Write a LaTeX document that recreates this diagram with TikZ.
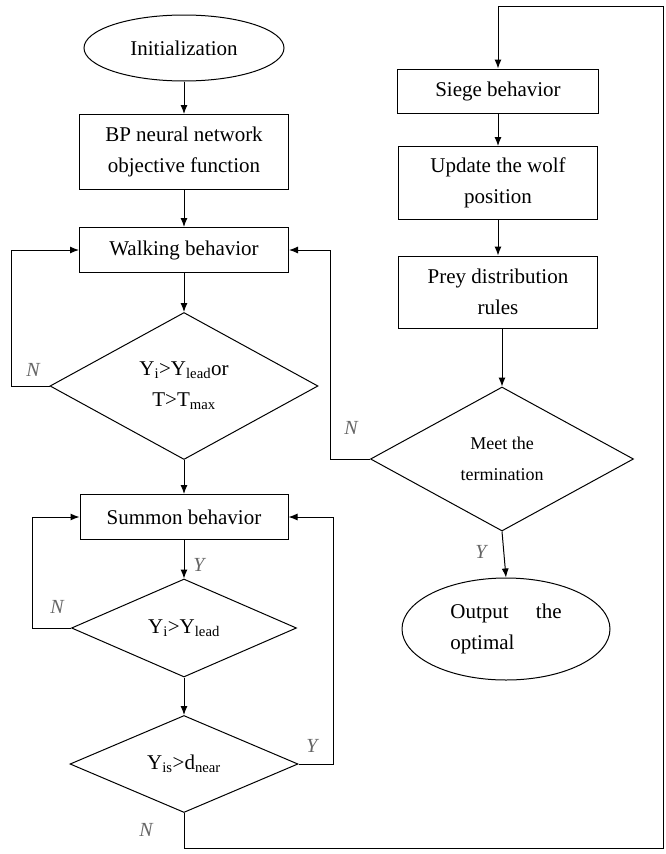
\documentclass[tikz,border=0pt]{standalone}
\usepackage{fontspec}
\setmainfont{Liberation Serif}
\usetikzlibrary{shapes.geometric,arrows.meta}
\begin{document}
\begin{tikzpicture}[x=1pt,y=-1pt,
  every node/.style={inner sep=0pt, align=center, font=\fontsize{21}{31}\selectfont},
  box/.style={draw, line width=1pt, rectangle},
  oval/.style={draw, line width=1pt, ellipse},
  decide/.style={draw, line width=1pt, diamond},
  arr/.style={line width=1pt, -{Latex[length=9pt,width=7pt]}},
  ln/.style={line width=1pt},
  yn/.style={font=\fontsize{20}{22}\selectfont\itshape, text=black!60}]
\useasboundingbox (0,0) rectangle (665,854);
% left column
\node[oval, minimum width=200, minimum height=66] (init) at (184,48) {Initialization};
\node[box, minimum width=209, minimum height=75] (bp) at (184,152) {BP neural network\\objective function};
\node[box, minimum width=209, minimum height=45] (walk) at (184,250) {Walking behavior};
\node[decide, minimum width=268, minimum height=147] (d1) at (184,386) {Y\textsubscript{i}>Y\textsubscript{lead}or\\T>T\textsubscript{max}};
\node[box, minimum width=208, minimum height=45] (summon) at (184,517) {Summon behavior};
\node[decide, minimum width=225, minimum height=98] (d2) at (184,628) {Y\textsubscript{i}>Y\textsubscript{lead}};
\node[decide, minimum width=228, minimum height=97] (d3) at (184,764) {Y\textsubscript{is}>d\textsubscript{near}};
% right column
\node[box, minimum width=201, minimum height=44] (siege) at (498,91) {Siege behavior};
\node[box, minimum width=199, minimum height=73] (update) at (498,183) {Update the wolf\\position};
\node[box, minimum width=199, minimum height=72] (prey) at (498,292) {Prey distribution\\rules};
\node[decide, minimum width=263, minimum height=144, font=\fontsize{18}{31}\selectfont] (d4) at (502,459) {Meet the\\termination};
\node[oval, minimum width=208, minimum height=102, align=left] (out) at (506,629) {Output\hspace{1.3em}the\\optimal};
% helper coordinates
\coordinate (bl) at (184,848);
\coordinate (br) at (663,848);
\coordinate (tr) at (663,6);
\coordinate (tl) at (498,6);
% connectors left
\draw[arr] (init.south) -- (init.south |- bp.north);
\draw[arr] (bp.south) -- (bp.south |- walk.north);
\draw[arr] (walk.south) -- (walk.south |- d1.north);
\draw[arr] (d1.south) -- (d1.south |- summon.north);
\draw[arr] (summon.south) -- (summon.south |- d2.north);
\draw[arr] (d2.south) -- (d2.south |- d3.north);
\draw[arr] (d1.west) -- ++(-38,0) |- (walk.west);
\draw[arr] (d2.west) -- ++(-39,0) |- (summon.west);
\draw[arr] (d3.east) -- ++(35,0) |- (summon.east);
\draw[ln] (d3.south) -- (bl) -- (br) -- (tr) -- (tl);
\draw[arr] (tl) -- (siege.north);
% connectors right
\draw[arr] (siege.south) -- (siege.south |- update.north);
\draw[arr] (update.south) -- (update.south |- prey.north);
\draw[arr] (d4.north |- prey.south) -- (d4.north);
\draw[arr] (d4.west) -- ++(-40,0) |- (walk.east);
\draw[arr] (d4.south) -- (out.north);
% labels
\node[yn] (n1) at (33,370) {N};
\node[yn] (y1) at (199,565) {Y};
\node[yn] (n2) at (57,607) {N};
\node[yn] (y2) at (312,746) {Y};
\node[yn] (n3) at (146,830) {N};
\node[yn] (n4) at (351,428) {N};
\node[yn] (y3) at (481,552) {Y};
\end{tikzpicture}
\end{document}
